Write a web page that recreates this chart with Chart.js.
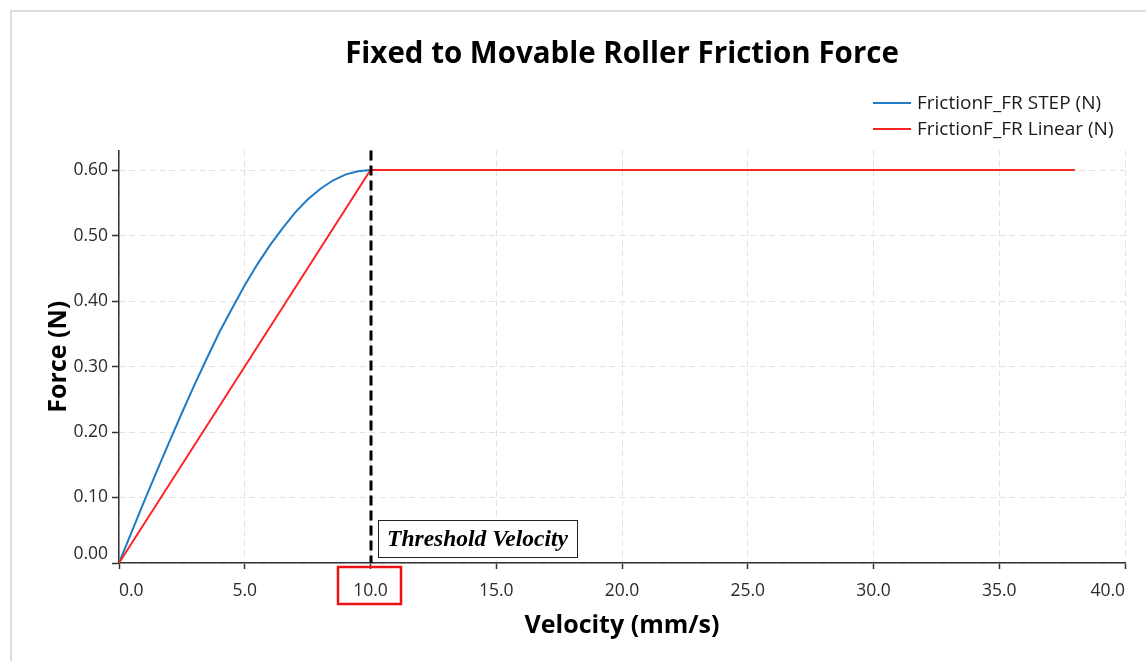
<!DOCTYPE html>
<html>
<head>
<meta charset="utf-8">
<title>Fixed to Movable Roller Friction Force</title>
<script src="https://cdn.jsdelivr.net/npm/chart.js@4.4.1/dist/chart.umd.min.js"></script>
<style>
  html, body { margin: 0; padding: 0; background: #fff; overflow: hidden; }
  #wrap { position: relative; width: 1146px; height: 661px; }
  #frame { position: absolute; left: 10px; top: 10px; right: 0; bottom: 0;
           border-left: 2px solid #dcdcdc; border-top: 2px solid #dcdcdc; pointer-events: none; }
</style>
</head>
<body>
<div id="wrap">
  <canvas id="friction" width="1146" height="661"></canvas>
  <div id="frame"></div>
</div>
<script>
// velocity samples (mm/s) and force (N)
var stepVelocity = [0, 0.5, 1, 1.5, 2, 2.5, 3, 3.5, 4, 4.5, 5, 5.5, 6, 6.5, 7, 7.5, 8, 8.5, 9, 9.5, 10, 38];
var stepForce = [0, 0.047, 0.094, 0.140, 0.185, 0.229, 0.272, 0.313, 0.353, 0.389, 0.424,
                 0.456, 0.485, 0.511, 0.535, 0.555, 0.571, 0.584, 0.593, 0.598, 0.600, 0.600];
var linearVelocity = [0, 10, 38];
var linearForce = [0, 0.600, 0.600];

var seriesLabels = ['FrictionF_FR STEP (N)', 'FrictionF_FR Linear (N)'];
var seriesColors = ['#1f7bc6', '#ff2424'];

var thresholdVelocity = 10;
var thresholdText = 'Threshold Velocity';

function toPoints(xs, ys) {
    return xs.map(function (x, i) { return { x: x, y: ys[i] }; });
}

Chart.defaults.font.family = '"Open Sans", "Noto Sans", sans-serif';
Chart.defaults.color = '#2b2b2b';

// legend drawn as short lines stacked at the top right
var lineLegend = {
    id: 'lineLegend',
    afterDraw: function (chart) {
        var ctx = chart.ctx;
        var x0 = chart.chartArea.right - 252;
        ctx.save();
        ctx.font = '19px "Open Sans", "Noto Sans", sans-serif';
        ctx.textBaseline = 'middle';
        chart.data.datasets.forEach(function (ds, i) {
            var y = 103 + i * 26;
            ctx.strokeStyle = ds.borderColor;
            ctx.lineWidth = 2;
            ctx.beginPath();
            ctx.moveTo(x0, y);
            ctx.lineTo(x0 + 38, y);
            ctx.stroke();
            ctx.fillStyle = '#1a1a1a';
            ctx.fillText(ds.label, x0 + 44, y + 1);
        });
        ctx.restore();
    }
};

// lift the 0.00 label so it sits above the x axis
var liftZeroLabel = {
    id: 'liftZeroLabel',
    beforeDraw: function (chart) {
        var items = chart.scales.y.getLabelItems();
        if (items.length) items[0].options.textBaseline = 'bottom';
    }
};

// dashed marker at the threshold, its text box and the box round its tick label
var thresholdMarker = {
    id: 'thresholdMarker',
    afterDatasetsDraw: function (chart) {
        var ctx = chart.ctx;
        var area = chart.chartArea;
        var xs = chart.scales.x;
        var px = Math.round(xs.getPixelForValue(thresholdVelocity));

        ctx.save();
        ctx.strokeStyle = '#000';
        ctx.lineWidth = 3;
        ctx.setLineDash([10, 5]);
        ctx.beginPath();
        ctx.moveTo(px, area.top);
        ctx.lineTo(px, area.bottom);
        ctx.stroke();
        ctx.setLineDash([]);

        var bx = px + 7, by = area.bottom - 43, bw = 199, bh = 37;
        ctx.fillStyle = '#fff';
        ctx.fillRect(bx, by, bw, bh);
        ctx.strokeStyle = '#222';
        ctx.lineWidth = 1;
        ctx.strokeRect(bx + 0.5, by + 0.5, bw, bh);
        ctx.fillStyle = '#000';
        ctx.font = 'italic bold 23.5px "Liberation Serif", "DejaVu Serif", serif';
        ctx.textAlign = 'center';
        ctx.textBaseline = 'middle';
        ctx.fillText(thresholdText, bx + bw / 2, by + bh / 2 + 1);

        ctx.strokeStyle = '#ee1111';
        ctx.lineWidth = 2.5;
        ctx.strokeRect(px - 33, xs.top + 4, 63, 37);
        ctx.restore();
    }
};

var ctx = document.getElementById('friction').getContext('2d');
var chart = new Chart(ctx, {
    type: 'line',
    data: {
        datasets: [{
            label: seriesLabels[0],
            data: toPoints(stepVelocity, stepForce),
            borderColor: seriesColors[0],
            backgroundColor: seriesColors[0],
            borderWidth: 2,
            pointRadius: 0,
            tension: 0,
            order: 1
        }, {
            label: seriesLabels[1],
            data: toPoints(linearVelocity, linearForce),
            borderColor: seriesColors[1],
            backgroundColor: seriesColors[1],
            borderWidth: 2,
            pointRadius: 0,
            tension: 0,
            order: 0
        }]
    },
    options: {
        responsive: false,
        animation: false,
        devicePixelRatio: 1,
        layout: { padding: { left: 0, right: 21, top: 0, bottom: 0 } },
        plugins: {
            legend: { display: false },
            tooltip: { enabled: false },
            title: {
                display: true,
                fullSize: false,
                text: 'Fixed to Movable Roller Friction Force',
                color: '#000',
                font: { size: 29.5, weight: 'bold' },
                padding: { top: 37, bottom: 78 }
            }
        },
        scales: {
            x: {
                type: 'linear',
                min: 0,
                max: 40,
                afterFit: function (s) { s.height = 98; },
                ticks: {
                    stepSize: 5,
                    align: 'inner',
                    padding: 12,
                    maxRotation: 0,
                    font: { size: 17.5 },
                    callback: function (v) { return v.toFixed(1); }
                },
                grid: { color: '#e2e2e2', tickColor: '#333', tickLength: 6, tickWidth: 1.5 },
                border: { color: '#333', width: 1.5, dash: [6, 4] },
                title: {
                    display: true,
                    text: 'Velocity (mm/s)',
                    color: '#000',
                    font: { size: 25, weight: 'bold' },
                    padding: { top: 0, bottom: 20 }
                }
            },
            y: {
                type: 'linear',
                min: 0,
                max: 0.63,
                bounds: 'data',
                afterFit: function (s) { s.width = 119; },
                ticks: {
                    stepSize: 0.1,
                    includeBounds: false,
                    padding: 4,
                    font: { size: 17.5 },
                    callback: function (v) { return v.toFixed(2); }
                },
                grid: { color: '#e2e2e2', tickColor: '#333', tickLength: 7, tickWidth: 1.5 },
                border: { color: '#333', width: 1.5, dash: [6, 4] },
                title: {
                    display: true,
                    text: 'Force (N)',
                    color: '#000',
                    font: { size: 25, weight: 'bold' },
                    padding: { top: 44, bottom: 0 }
                }
            }
        }
    },
    plugins: [liftZeroLabel, thresholdMarker, lineLegend]
});
</script>
</body>
</html>
